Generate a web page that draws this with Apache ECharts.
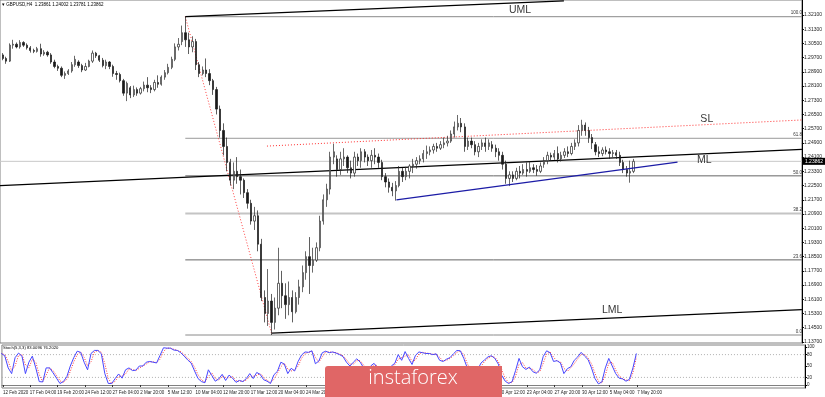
<!DOCTYPE html>
<html><head><meta charset="utf-8">
<script src="https://cdn.jsdelivr.net/npm/echarts@6/dist/echarts.min.js"></script>
<style>html,body{margin:0;padding:0;background:#fff;overflow:hidden}#c{width:825px;height:397px}</style>
</head><body><div id="c"></div>
<script>
// 8-hour candles (3 per trading day), [open, close, low, high]
const candles = [
[1.2950,1.2960,1.2938,1.2972],[1.2960,1.2985,1.2948,1.2992],[1.2985,1.2965,1.2955,1.2995],
[1.2965,1.2950,1.2935,1.2975],[1.2950,1.3040,1.2945,1.3050],[1.3040,1.3045,1.3020,1.3070],
[1.3045,1.3030,1.3022,1.3055],[1.3030,1.3055,1.3020,1.3068],[1.3055,1.3040,1.3030,1.3062],
[1.3040,1.3025,1.3015,1.3050],[1.3025,1.3010,1.2998,1.3035],[1.3010,1.3005,1.2995,1.3020],
[1.3005,1.3020,1.2998,1.3030],[1.3020,1.2990,1.2975,1.3048],[1.2990,1.3000,1.2980,1.3012],
[1.3000,1.2985,1.2975,1.3008],[1.2985,1.2945,1.2935,1.2995],[1.2945,1.2920,1.2910,1.2958],
[1.2920,1.2910,1.2895,1.2930],[1.2910,1.2870,1.2860,1.2920],[1.2870,1.2880,1.2850,1.2892],
[1.2880,1.2895,1.2872,1.2905],[1.2895,1.2930,1.2885,1.2945],[1.2930,1.2960,1.2918,1.2980],
[1.2945,1.2925,1.2912,1.2955],[1.2925,1.2900,1.2888,1.2935],[1.2900,1.2920,1.2895,1.2940],
[1.2920,1.2950,1.2915,1.2958],[1.2950,1.2995,1.2940,1.3010],[1.2995,1.2980,1.2968,1.3002],
[1.2980,1.2955,1.2945,1.2985],[1.2955,1.2925,1.2915,1.2968],[1.2925,1.2945,1.2905,1.2958],
[1.2945,1.2920,1.2905,1.2950],[1.2920,1.2880,1.2862,1.2930],[1.2880,1.2875,1.2845,1.2895],
[1.2875,1.2840,1.2830,1.2885],[1.2840,1.2770,1.2755,1.2850],[1.2770,1.2825,1.2725,1.2835],
[1.2800,1.2760,1.2742,1.2810],[1.2760,1.2790,1.2748,1.2812],[1.2790,1.2770,1.2755,1.2802],
[1.2770,1.2795,1.2762,1.2805],[1.2795,1.2815,1.2780,1.2835],[1.2815,1.2800,1.2775,1.2860],
[1.2800,1.2790,1.2770,1.2815],[1.2790,1.2830,1.2780,1.2845],[1.2830,1.2820,1.2800,1.2870],
[1.2820,1.2860,1.2812,1.2870],[1.2860,1.2885,1.2845,1.2900],[1.2885,1.2915,1.2875,1.2935],
[1.2915,1.2960,1.2905,1.2975],[1.2960,1.3030,1.2950,1.3050],[1.3030,1.3045,1.3010,1.3080],
[1.3060,1.3110,1.3040,1.3150],[1.3110,1.3070,1.3030,1.3200],[1.3070,1.3030,1.2990,1.3110],
[1.3030,1.3060,1.3000,1.3090],[1.3060,1.2930,1.2900,1.3075],[1.2930,1.2880,1.2860,1.2945],
[1.2880,1.2900,1.2870,1.2920],[1.2900,1.2880,1.2860,1.2965],[1.2880,1.2840,1.2815,1.2905],
[1.2840,1.2790,1.2760,1.2850],[1.2790,1.2680,1.2650,1.2805],[1.2680,1.2560,1.2520,1.2700],
[1.2560,1.2470,1.2420,1.2600],[1.2470,1.2380,1.2330,1.2520],[1.2380,1.2280,1.2250,1.2400],
[1.2280,1.2330,1.2230,1.2380],[1.2330,1.2300,1.2260,1.2410],[1.2300,1.2280,1.2200,1.2340],
[1.2280,1.2210,1.2180,1.2290],[1.2210,1.2150,1.2120,1.2230],[1.2150,1.2050,1.2030,1.2170],
[1.2050,1.2080,1.2000,1.2130],[1.2080,1.1920,1.1880,1.2110],[1.1920,1.1620,1.1600,1.1950],
[1.1620,1.1530,1.1480,1.1660],[1.1530,1.1600,1.1460,1.1780],[1.1600,1.1480,1.1409,1.1640],
[1.1480,1.1560,1.1440,1.1620],[1.1560,1.1700,1.1520,1.1900],[1.1700,1.1630,1.1560,1.1770],
[1.1630,1.1580,1.1500,1.1700],[1.1580,1.1620,1.1520,1.1710],[1.1620,1.1540,1.1480,1.1660],
[1.1540,1.1620,1.1530,1.1650],[1.1620,1.1680,1.1580,1.1720],[1.1680,1.1760,1.1650,1.1800],
[1.1760,1.1850,1.1720,1.1880],[1.1850,1.1800,1.1640,1.1960],[1.1800,1.1830,1.1760,1.1900],
[1.1830,1.1900,1.1820,1.1930],[1.1900,1.2050,1.1880,1.2080],[1.2050,1.2170,1.2030,1.2200],
[1.2170,1.2230,1.2130,1.2260],[1.2230,1.2410,1.2200,1.2440],[1.2410,1.2440,1.2370,1.2485],
[1.2400,1.2340,1.2300,1.2420],[1.2340,1.2400,1.2310,1.2440],[1.2400,1.2410,1.2360,1.2460],
[1.2410,1.2350,1.2320,1.2420],[1.2350,1.2320,1.2290,1.2390],[1.2320,1.2410,1.2300,1.2440],
[1.2410,1.2390,1.2360,1.2430],[1.2390,1.2440,1.2350,1.2460],[1.2440,1.2410,1.2380,1.2455],
[1.2410,1.2390,1.2360,1.2425],[1.2390,1.2420,1.2350,1.2450],[1.2420,1.2410,1.2370,1.2460],
[1.2410,1.2380,1.2350,1.2430],[1.2380,1.2300,1.2280,1.2395],[1.2300,1.2270,1.2240,1.2320],
[1.2270,1.2240,1.2210,1.2290],[1.2240,1.2220,1.2190,1.2265],[1.2220,1.2250,1.2165,1.2275],
[1.2250,1.2330,1.2240,1.2360],[1.2330,1.2300,1.2270,1.2350],[1.2300,1.2330,1.2280,1.2355],
[1.2330,1.2360,1.2290,1.2370],[1.2360,1.2370,1.2320,1.2400],[1.2370,1.2390,1.2345,1.2410],
[1.2390,1.2400,1.2370,1.2420],[1.2400,1.2430,1.2380,1.2450],[1.2430,1.2440,1.2400,1.2475],
[1.2440,1.2450,1.2420,1.2470],[1.2450,1.2470,1.2430,1.2485],[1.2470,1.2460,1.2440,1.2490],
[1.2460,1.2480,1.2450,1.2500],[1.2480,1.2490,1.2460,1.2520],[1.2490,1.2500,1.2470,1.2530],
[1.2500,1.2540,1.2490,1.2560],[1.2540,1.2580,1.2520,1.2610],[1.2580,1.2600,1.2560,1.2647],
[1.2600,1.2580,1.2550,1.2630],[1.2580,1.2470,1.2440,1.2600],[1.2470,1.2500,1.2450,1.2520],
[1.2500,1.2480,1.2460,1.2520],[1.2480,1.2440,1.2420,1.2500],[1.2440,1.2470,1.2410,1.2490],
[1.2470,1.2490,1.2450,1.2510],[1.2490,1.2470,1.2440,1.2520],[1.2470,1.2490,1.2450,1.2510],
[1.2480,1.2460,1.2440,1.2500],[1.2460,1.2440,1.2410,1.2480],[1.2440,1.2420,1.2390,1.2460],
[1.2420,1.2370,1.2340,1.2440],[1.2370,1.2290,1.2260,1.2390],[1.2290,1.2310,1.2247,1.2330],
[1.2310,1.2290,1.2270,1.2330],[1.2290,1.2330,1.2280,1.2350],[1.2330,1.2320,1.2290,1.2360],
[1.2320,1.2340,1.2310,1.2370],[1.2340,1.2330,1.2300,1.2380],[1.2330,1.2350,1.2320,1.2385],
[1.2350,1.2340,1.2320,1.2370],[1.2340,1.2330,1.2305,1.2365],[1.2330,1.2360,1.2320,1.2380],
[1.2370,1.2390,1.2350,1.2410],[1.2390,1.2420,1.2370,1.2440],[1.2420,1.2410,1.2390,1.2435],
[1.2410,1.2430,1.2395,1.2450],[1.2430,1.2400,1.2380,1.2470],[1.2400,1.2420,1.2385,1.2440],
[1.2420,1.2440,1.2405,1.2460],[1.2440,1.2430,1.2410,1.2470],[1.2430,1.2470,1.2420,1.2490],
[1.2470,1.2490,1.2450,1.2510],[1.2490,1.2560,1.2470,1.2590],[1.2560,1.2590,1.2530,1.2620],
[1.2590,1.2560,1.2530,1.2605],[1.2560,1.2520,1.2490,1.2580],[1.2520,1.2490,1.2455,1.2540],
[1.2480,1.2440,1.2420,1.2495],[1.2440,1.2430,1.2410,1.2470],[1.2430,1.2450,1.2415,1.2465],
[1.2450,1.2440,1.2425,1.2470],[1.2440,1.2430,1.2400,1.2460],[1.2430,1.2435,1.2410,1.2450],
[1.2435,1.2420,1.2400,1.2450],[1.2420,1.2380,1.2360,1.2440],[1.2380,1.2340,1.2320,1.2395],
[1.2340,1.2320,1.2300,1.2360],[1.2320,1.2330,1.2266,1.2390],[1.2330,1.2386,1.2320,1.2400]
];
// Stochastic (5,3,3) main and signal, one value per 8-hour candle
const stochK = [83,83,77,45,30,72,84,76,30,60, 76,45,9,8,45,45,32,18,4,9, 22,50,72,89,86,60,40,83,91,91,
 82,30,4,4,17,29,18,40,45,38, 39,50,50,60,62,60,58,78,98,97, 97,92,91,85,76,66,58,37,17,9,
 6,40,25,10,16,28,12,26,18,7, 12,9,17,30,17,33,28,14,10,4, 27,36,60,55,30,44,37,62,79,87,
 86,90,56,63,85,89,85,87,84,80, 75,60,50,60,69,60,45,38,50,57, 45,35,30,40,50,57,80,65,88,70,
 54,78,87,85,83,83,80,82,65,62, 68,72,82,91,90,70,45,30,25,40, 58,66,74,77,70,55,25,10,4,9,
 38,70,48,41,47,35,31,40,75,90, 85,62,64,58,30,43,48,65,74,86, 76,67,45,17,3,8,45,70,50,30,
 18,16,10,15,45,83];
const stochD = [80,83,80,62,38,50,78,80,53,45, 68,60,27,9,26,45,38,25,11,7, 15,36,61,80,87,73,50,61,87,91,
 86,56,17,4,10,23,23,29,42,41, 38,44,50,55,61,61,59,68,88,97, 97,94,91,88,80,71,62,47,27,13,
 8,23,32,17,13,22,20,19,22,12, 10,10,13,23,23,25,30,21,12,7, 15,31,48,57,42,37,40,50,70,83,
 86,88,73,60,74,87,87,86,85,82, 77,67,55,55,64,64,52,41,44,53, 51,40,32,35,45,53,68,72,76,79,
 62,66,82,86,84,83,81,81,73,63, 65,70,77,86,90,80,57,37,27,32, 49,62,70,75,73,62,40,17,7,6,
 23,54,59,44,44,41,33,35,57,82, 87,73,63,61,44,36,45,56,69,80, 81,71,56,31,10,5,26,57,60,40,
 24,17,13,12,32,74];
// time axis labels and the H4 bar number each one sits on
const xTickLabels = ['12 Feb 2020','17 Feb 04:00','19 Feb 20:00','24 Feb 12:00','27 Feb 04:00','2 Mar 20:00','5 Mar 12:00',
 '10 Mar 04:00','12 Mar 20:00','17 Mar 12:00','20 Mar 04:00','24 Mar 20:00','27 Mar 12:00','1 Apr 04:00','3 Apr 20:00',
 '8 Apr 12:00','13 Apr 04:00','15 Apr 20:00','20 Apr 12:00','23 Apr 04:00','27 Apr 20:00','30 Apr 12:00','5 May 04:00','7 May 20:00'];
const xTickBars = [3.5,19,35,51,67,83,99,115,131,147,163,179,195,211,227,243,259,275,291,307,323,339,355,371];
const priceTicks = [1.137,1.145,1.153,1.161,1.169,1.177,1.185,1.193,1.201,1.209,1.217,1.225,1.233,1.241,1.249,1.257,1.265,1.273,1.281,1.289,1.297,1.305,1.313,1.321];
const stochTicks = [0,20,50,80,100];
const stochLevels = [20,80];
const lastPrice = 1.23862;
// Fibonacci retracement anchors (H4 bar, price)
const fibHigh = [110.4,1.3200], fibLow = [160.7,1.1409];
const fibLevels = [100,61.8,50,38.2,23.6,0];
// drawn lines: [[bar, price],[bar, price]]
const umlLine = [[110.4,1.3200],[330.1,1.3289]];
const mlLine = [[2.89,1.2250],[468.2,1.2453]];
const lmlLine = [[160.7,1.1420],[468.2,1.1552]];
const slLine = [[157.8,1.2472],[468.2,1.2619]];
const supportLine = [[232.9,1.2169],[396.0,1.2382]];
const annotations = [[304.6,1.32378,'UML'],[413.0,1.26244,'SL'],[411.6,1.23937,'ML'],[358.1,1.15497,'LML']];

const XMIN = 2.89, XMAX = 468.2;
const FONT = 'Liberation Sans';
const barX = i => 2 * i + 0.5;

const chart = echarts.init(document.getElementById('c'));
const series = [];
series.push({
  type: 'candlestick', xAxisIndex: 0, yAxisIndex: 0, barWidth: 1.8,
  encode: {x: 0, y: [1, 2, 3, 4]},
  data: candles.map((c, i) => [barX(i), c[0], c[1], c[2], c[3]]),
  itemStyle: {color: '#ffffff', color0: '#1a1a1a', borderColor: '#2a2a2a', borderColor0: '#1a1a1a', borderWidth: 0.7},
  silent: true, z: 3
});
function seg(pts, style, z, extra) {
  return Object.assign({type: 'line', xAxisIndex: 0, yAxisIndex: 0, data: pts, symbol: 'none', silent: true,
    lineStyle: style, z: z || 2, animation: false}, extra || {});
}
// bid line with price box
series.push(seg([[XMIN, lastPrice], {value: [XMAX, lastPrice], symbol: 'circle', symbolSize: 0,
  label: {show: true, position: 'right', distance: 1, formatter: lastPrice.toFixed(5), color: '#fff', backgroundColor: '#000',
    fontSize: 5, fontFamily: FONT, padding: [1, 2, 1, 2]}}], {color: '#c8c8c8', width: 1}, 1));
// fibonacci levels
const fibColors = {100: '#8a8a8a', 61.8: '#9a9a9a', 50: '#666666', 38.2: '#c4c4c4', 23.6: '#666666', 0: '#8a8a8a'};
fibLevels.forEach(l => {
  const p = fibLow[1] + (fibHigh[1] - fibLow[1]) * l / 100;
  series.push(seg([[fibHigh[0], p], {value: [XMAX, p], symbol: 'circle', symbolSize: 0,
    label: {show: true, position: 'top', distance: 1, align: 'right', formatter: l.toFixed(1), fontSize: 4.5, fontFamily: FONT, color: '#333'}}],
    {color: fibColors[l], width: l === 38.2 ? 2 : 1}, 1));
});
series.push(seg([fibHigh, fibLow], {color: '#ff4040', width: 1, type: [1, 2]}, 2));
series.push(seg(umlLine, {color: '#000', width: 1.2}, 2));
series.push(seg(mlLine, {color: '#000', width: 1.2}, 2));
series.push(seg(lmlLine, {color: '#000', width: 1.2}, 2));
series.push(seg(slLine, {color: '#ff3030', width: 1, type: [1, 2]}, 2));
series.push(seg(supportLine, {color: '#1c1ca6', width: 1.3}, 4));
series.push({type: 'scatter', xAxisIndex: 0, yAxisIndex: 0, symbolSize: 0, silent: true, z: 5,
  data: annotations.map(a => ({value: [a[0], a[1]], name: a[2]})),
  label: {show: true, position: 'inside', formatter: p => p.name, fontSize: 10.5, fontFamily: FONT, color: '#000'}});
// stochastic
stochLevels.forEach(l => series.push({type: 'line', xAxisIndex: 1, yAxisIndex: 1, data: [[XMIN, l], [XMAX, l]], symbol: 'none', silent: true,
  lineStyle: {color: '#b0b0b0', width: 1, type: [1, 2]}, z: 1}));
series.push({type: 'line', xAxisIndex: 1, yAxisIndex: 1, data: stochD.map((v, i) => [barX(i), v]), symbol: 'none', silent: true,
  lineStyle: {color: '#ff3a3a', width: 1, type: [1, 1.5]}, z: 2});
series.push({type: 'line', xAxisIndex: 1, yAxisIndex: 1, data: stochK.map((v, i) => [barX(i), v]), symbol: 'none', silent: true,
  lineStyle: {color: '#4646ff', width: 1}, z: 3});

const xLabel = v => { const k = xTickBars.indexOf(v); return k >= 0 ? xTickLabels[k] : ''; };
const option = {
  animation: false,
  backgroundColor: '#ffffff',
  grid: [
    {left: 0, top: 0, width: 805, height: 343, show: true, borderColor: '#808080', borderWidth: 1, backgroundColor: '#fff'},
    {left: 0, top: 345, width: 805, height: 43, show: true, borderColor: '#808080', borderWidth: 1, backgroundColor: '#fff'}
  ],
  xAxis: [
    {type: 'value', gridIndex: 0, min: XMIN, max: XMAX, axisLine: {show: false}, axisTick: {show: false}, axisLabel: {show: false}, splitLine: {show: false}},
    {type: 'value', gridIndex: 1, min: XMIN, max: XMAX, axisLine: {show: true, lineStyle: {color: '#808080'}},
      axisTick: {show: true, customValues: xTickBars, length: 2, lineStyle: {color: '#333'}},
      axisLabel: {show: true, customValues: xTickBars, formatter: xLabel, fontSize: 4.5, fontFamily: FONT, color: '#222', align: 'left', margin: 2},
      splitLine: {show: false}}
  ],
  yAxis: [
    {type: 'value', gridIndex: 0, position: 'right', min: 1.1364, max: 1.3294, axisLine: {show: true, lineStyle: {color: '#000'}},
      axisTick: {show: true, customValues: priceTicks, length: 2, inside: false, lineStyle: {color: '#000'}},
      axisLabel: {show: true, customValues: priceTicks, formatter: v => v.toFixed(5), fontSize: 5, fontFamily: FONT, color: '#222', margin: 2},
      splitLine: {show: false}},
    {type: 'value', gridIndex: 1, position: 'right', min: -7.9, max: 105.3, axisLine: {show: true, lineStyle: {color: '#000'}},
      axisTick: {show: true, customValues: stochTicks, length: 2, lineStyle: {color: '#000'}},
      axisLabel: {show: true, customValues: stochTicks, formatter: v => String(v), fontSize: 4.5, fontFamily: FONT, color: '#222', margin: 2},
      splitLine: {show: false}}
  ],
  series: series,
  graphic: [
    {type: 'text', left: 2, top: 2, z: 10, style: {text: '\u25BE GBPUSD,H4  1.23861 1.24002 1.23781 1.23862', fontSize: 4.5, fontFamily: FONT, fill: '#000'}},
    {type: 'text', left: 3, top: 346, z: 10, style: {text: 'Stoch(5,3,3) 83.0096 76.2020', fontSize: 4.2, fontFamily: FONT, fill: '#000'}},
    {type: 'rect', left: 325, top: 366, z: 20, shape: {width: 177, height: 31, r: [3, 0, 0, 0]}, style: {fill: '#e06666'}},
    {type: 'text', z: 21, x: 413, y: 388, style: {text: 'instaforex', fontSize: 20, fontFamily: 'Open Sans', fontWeight: 300, fill: '#ffffff', textAlign: 'center', textVerticalAlign: 'bottom'}}
  ]
};
chart.setOption(option);
</script>
</body></html>
